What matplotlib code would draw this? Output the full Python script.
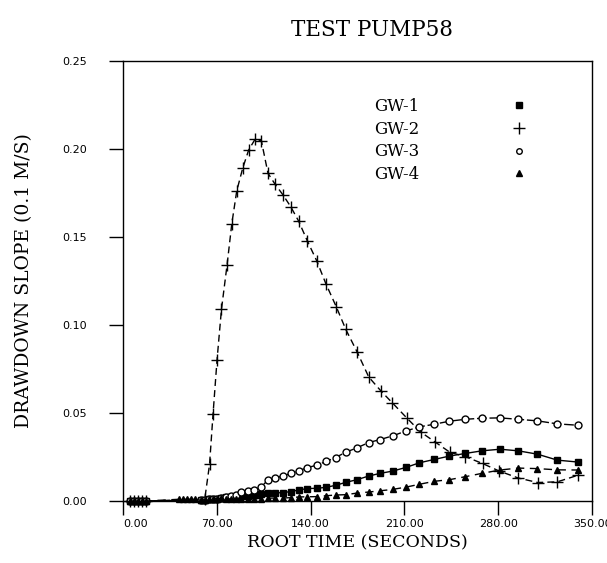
import numpy as np
import matplotlib
matplotlib.use("Agg")
import matplotlib.pyplot as plt
from matplotlib.lines import Line2D

early_t = [5.0, 8.0, 11.0, 14.0, 17.0]
flat_t = [42.0, 45.0, 48.0, 51.0, 54.0]
start_t = [58.0, 61.0, 64.0, 67.0, 70.0, 73.0]

gw1_t = [77.2, 80.9, 84.7, 88.4, 93.3, 97.8, 103.3, 108.2, 113.7, 119.4, 125.1, 131.1,
         137.5, 144.7, 151.7, 158.6, 166.3, 174.6, 183.4, 191.9, 201.3, 211.3, 221.2,
         232.3, 243.5, 255.4, 267.9, 281.3, 294.9, 309.3, 324.2, 339.8]
gw1_s = [0.0020, 0.0023, 0.0025, 0.0028, 0.0031, 0.0034, 0.0037, 0.0044, 0.0047, 0.0047,
         0.0054, 0.0062, 0.0071, 0.0072, 0.0078, 0.0089, 0.0106, 0.0121, 0.0142, 0.0157,
         0.0170, 0.0191, 0.0217, 0.0236, 0.0255, 0.0270, 0.0285, 0.0294, 0.0285, 0.0266,
         0.0232, 0.0221]

gw2_t = [64.6, 67.2, 70.2, 73.5, 77.7, 81.2, 84.9, 89.4, 93.8, 98.8, 103.3, 108.2, 113.2,
         119.2, 125.1, 131.1, 137.5, 144.5, 151.5, 159.1, 166.3, 174.8, 183.4, 192.7, 200.8,
         211.6, 222.1, 233.1, 243.9, 255.4, 268.3, 280.5, 294.8, 309.4, 324.2, 339.8]
gw2_s = [0.0208, 0.0493, 0.0802, 0.1089, 0.1342, 0.1574, 0.1761, 0.1891, 0.1993, 0.2057,
         0.2044, 0.1861, 0.1802, 0.1740, 0.1672, 0.1589, 0.1478, 0.1365, 0.1232, 0.1104,
         0.0974, 0.0845, 0.0704, 0.0623, 0.0559, 0.0473, 0.0392, 0.0334, 0.0277, 0.0252,
         0.0213, 0.0171, 0.0131, 0.0105, 0.0109, 0.0147]

gw3_t = gw1_t
gw3_s = [0.0021, 0.0028, 0.0034, 0.0053, 0.0058, 0.0061, 0.0082, 0.0119, 0.0132, 0.0142,
         0.0157, 0.0172, 0.0189, 0.0204, 0.0225, 0.0247, 0.0277, 0.0302, 0.0332, 0.0349,
         0.0370, 0.0398, 0.0421, 0.0436, 0.0453, 0.0464, 0.0470, 0.0472, 0.0464, 0.0455,
         0.0438, 0.0430]

gw4_t = gw1_t
gw4_s = [0.0011, 0.0011, 0.0012, 0.0013, 0.0014, 0.0014, 0.0014, 0.0016, 0.0017, 0.0017,
         0.0019, 0.0023, 0.0024, 0.0025, 0.0030, 0.0034, 0.0036, 0.0045, 0.0051, 0.0058,
         0.0066, 0.0079, 0.0095, 0.0112, 0.0121, 0.0138, 0.0157, 0.0176, 0.0187, 0.0184,
         0.0177, 0.0176]

early_s = [0.0, 0.0, 0.0, 0.0, 0.0]
flat_s = [0.0010, 0.0010, 0.0010, 0.0010, 0.0010]
start_s = [0.0005, 0.0008, 0.0010, 0.0012, 0.0014, 0.0016]

labels = ["GW-1", "GW-2", "GW-3", "GW-4"]
xticks = [0, 70, 140, 210, 280, 350]
yticks = [0.0, 0.05, 0.10, 0.15, 0.20, 0.25]

serif = ["DejaVu Serif"]

fig = plt.figure(figsize=(6.07, 5.63), dpi=100)
ax = fig.add_axes([0.2026, 0.1101, 0.7727, 0.7821])

# GW-1 squares, solid
t1 = early_t + start_t + gw1_t
s1 = early_s + start_s + gw1_s
ax.plot(t1, s1, color="black", lw=1.0, ls="-", marker="s", ms=4.5,
        mfc="black", mec="black", clip_on=False)

# GW-2 plus, dashed
t2 = early_t + [61.0] + gw2_t
s2 = early_s + [0.001] + gw2_s
ax.plot(t2, s2, color="black", lw=1.0, ls=(0, (5, 3)), marker="+", ms=9,
        mew=1.0, clip_on=False)

# GW-3 open circles
t3 = early_t + start_t + gw3_t
s3 = early_s + start_s + gw3_s
ax.plot(t3, s3, color="black", lw=1.0, ls=(0, (7, 2)), marker="o", ms=5,
        mfc="white", mec="black", mew=1.0, clip_on=False)

# GW-4 triangles, dashed
t4 = early_t + flat_t + start_t + gw4_t
s4 = early_s + flat_s + start_s + gw4_s
ax.plot(t4, s4, color="black", lw=1.0, ls=(0, (6, 4)), marker="^", ms=5,
        mfc="black", mec="black", clip_on=False)

ax.set_xlim(0, 350)
ax.set_ylim(0, 0.25)
ax.set_xticks(xticks)
ax.set_xticklabels(["%.2f" % v for v in xticks], fontsize=8)
ax.get_xticklabels()[0].set_ha("left")
ax.set_yticks(yticks)
ax.set_yticklabels(["%.2f" % v for v in yticks], fontsize=8)
ax.tick_params(direction="out", length=10, width=1)
ax.tick_params(axis="x", pad=3)
ax.tick_params(axis="y", pad=16)
for sp in ax.spines.values():
    sp.set_linewidth(1.0)

ax.set_xlabel("ROOT TIME (SECONDS)", family=serif, fontsize=12.5, labelpad=4)
ax.set_ylabel("DRAWDOWN SLOPE (0.1 M/S)", family=serif, fontsize=13.5, labelpad=21)
fig.text(0.613, 0.947, "TEST PUMP58", family=serif, fontsize=15.5, ha="center", va="center")

handles = [
    Line2D([], [], ls="none", marker="s", ms=4, color="black"),
    Line2D([], [], ls="none", marker="+", ms=9, mew=1.0, color="black"),
    Line2D([], [], ls="none", marker="o", ms=4, mfc="white", mec="black"),
    Line2D([], [], ls="none", marker="^", ms=4, color="black"),
]
leg = ax.legend(handles, labels, loc="upper left", bbox_to_anchor=(0.503, 0.95),
                frameon=False, markerfirst=False, handletextpad=5.5, handlelength=1,
                labelspacing=0.35, prop={"family": serif, "size": 12})

fig.savefig("out.png", dpi=100)
